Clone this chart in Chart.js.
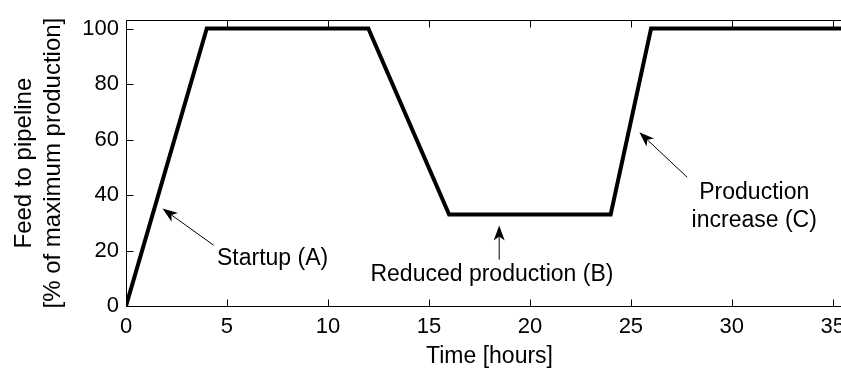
<!DOCTYPE html>
<html>
<head>
<meta charset="utf-8">
<script src="https://cdn.jsdelivr.net/npm/chart.js@4/dist/chart.umd.min.js"></script>
<style>
  html, body { margin: 0; padding: 0; background: #fff; overflow: hidden; }
  #wrap { width: 870px; height: 372px; }
</style>
</head>
<body>
<div id="wrap"><canvas id="c" width="870" height="372"></canvas></div>
<script>
// Data
const timeHours = [0, 4, 12, 16, 24, 26, 36];
const feedPercent = [0, 100, 100, 33, 33, 100, 100];
const xTickValues = [0, 5, 10, 15, 20, 25, 30, 35];
const yTickValues = [0, 20, 40, 60, 80, 100];

// Annotation labels (data coordinates)
const annotationTexts = [
  { x: 7.26, y: 17.0, lines: ['Startup (A)'] },
  { x: 18.12, y: 11.3, lines: ['Reduced production (B)'] },
  { x: 31.11, y: 41.0, lines: ['Production', 'increase (C)'] }
];
const annotationArrows = [
  { tailX: 4.34, tailY: 21.9, tipX: 1.81, tipY: 35.1 },
  { tailX: 18.48, tailY: 16.7, tipX: 18.48, tipY: 29.0 },
  { tailX: 27.79, tailY: 46.4, tipX: 25.42, tipY: 62.6 }
];

const FONT = '"Liberation Sans", Arial, Helvetica, sans-serif';

const annotPlugin = {
  id: 'annot',
  afterDatasetsDraw(chart) {
    const { ctx, chartArea: a, scales: { x, y } } = chart;
    ctx.save();
    // frame
    ctx.strokeStyle = '#000';
    ctx.lineWidth = 1;
    ctx.beginPath();
    const L = Math.round(a.left) + 0.5, T = Math.round(a.top) + 0.5, B = Math.round(a.bottom) + 0.5, R = Math.round(a.right) + 0.5;
    ctx.moveTo(R, T); ctx.lineTo(L, T); ctx.lineTo(L, B); ctx.lineTo(R, B); ctx.lineTo(R, T);
    ctx.stroke();
    // inward ticks
    ctx.beginPath();
    xTickValues.forEach(v => {
      const px = Math.round(x.getPixelForValue(v)) + 0.5;
      ctx.moveTo(px, B); ctx.lineTo(px, B - 7);
      ctx.moveTo(px, T); ctx.lineTo(px, T + 7);
    });
    yTickValues.forEach(v => {
      const py = Math.round(y.getPixelForValue(v)) + 0.5;
      ctx.moveTo(L, py); ctx.lineTo(L + 7, py);
      ctx.moveTo(R, py); ctx.lineTo(R - 7, py);
    });
    ctx.stroke();

    // arrows
    annotationArrows.forEach(ar => {
      const x1 = x.getPixelForValue(ar.tailX), y1 = y.getPixelForValue(ar.tailY);
      const x2 = x.getPixelForValue(ar.tipX), y2 = y.getPixelForValue(ar.tipY);
      const ang = Math.atan2(y2 - y1, x2 - x1);
      const len = 15, half = 5.5, back = 11;
      ctx.strokeStyle = '#000';
      ctx.lineWidth = 1;
      ctx.beginPath();
      ctx.moveTo(x1, y1);
      ctx.lineTo(x2 - Math.cos(ang) * back, y2 - Math.sin(ang) * back);
      ctx.stroke();
      const cx = Math.cos(ang), sx = Math.sin(ang);
      const bx = x2 - cx * len, by = y2 - sx * len;
      ctx.fillStyle = '#000';
      ctx.beginPath();
      ctx.moveTo(x2, y2);
      ctx.lineTo(bx - sx * half, by + cx * half);
      ctx.lineTo(x2 - cx * back, y2 - sx * back);
      ctx.lineTo(bx + sx * half, by - cx * half);
      ctx.closePath();
      ctx.fill();
    });

    // texts
    ctx.fillStyle = '#000';
    ctx.font = '23px ' + FONT;
    ctx.textAlign = 'center';
    ctx.textBaseline = 'middle';
    annotationTexts.forEach(t => {
      const px = x.getPixelForValue(t.x);
      t.lines.forEach((ln, i) => {
        const py = y.getPixelForValue(t.y) + i * 28;
        ctx.fillText(ln, px, py);
      });
    });
    ctx.restore();
  }
};

new Chart(document.getElementById('c'), {
  type: 'line',
  data: {
    datasets: [{
      data: timeHours.map((t, i) => ({ x: t, y: feedPercent[i] })),
      borderColor: '#000',
      borderWidth: 4,
      pointRadius: 0,
      fill: false,
      tension: 0,
      borderJoinStyle: 'miter'
    }]
  },
  options: {
    responsive: false,
    animation: false,
    events: [],
    layout: { padding: { top: 10, right: 17, left: 0, bottom: 0 } },
    plugins: { legend: { display: false }, tooltip: { enabled: false } },
    scales: {
      x: {
        type: 'linear',
        min: 0, max: 36,
        afterBuildTicks(s) { s.ticks = xTickValues.map(v => ({ value: v })); },
        afterFit(s) { s.height = 66; },
        grid: { display: false, drawTicks: false },
        border: { display: false },
        ticks: { color: '#000', font: { family: FONT, size: 22 }, padding: 8, maxRotation: 0, autoSkip: false },
        title: { display: true, text: 'Time [hours]', color: '#000', font: { family: FONT, size: 23, lineHeight: 1.2 }, padding: { top: 0, bottom: 2 } }
      },
      y: {
        type: 'linear',
        min: 0, max: 103,
        afterBuildTicks(s) { s.ticks = yTickValues.map(v => ({ value: v })); },
        afterFit(s) { s.width = 126; },
        grid: { display: false, drawTicks: false },
        border: { display: false },
        ticks: { color: '#000', font: { family: FONT, size: 22 }, padding: 7, autoSkip: false },
        title: { display: true, text: ['Feed to pipeline', '[% of maximum production]'], color: '#000', font: { family: FONT, size: 24, lineHeight: 1.2 }, padding: { top: 10, bottom: 0 } }
      }
    }
  },
  plugins: [annotPlugin]
});
</script>
</body>
</html>
